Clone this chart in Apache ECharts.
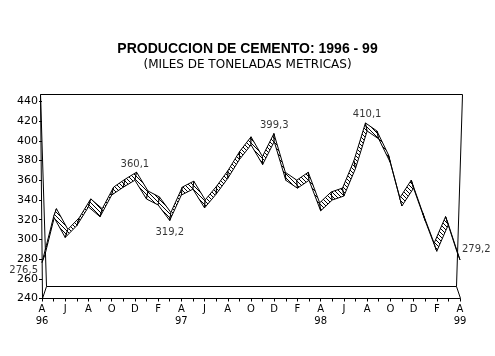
<!DOCTYPE html>
<html><head><meta charset="utf-8">
<script src="https://cdn.jsdelivr.net/npm/echarts@6/dist/echarts.min.js"></script>
<style>html,body{margin:0;padding:0;background:#fff}#c{width:495px;height:356px}</style>
</head><body><div id="c"></div>
<script>
// ---- data ----
const categories = ['A','M','J','J','A','S','O','N','D','E','F','M',
                    'A','M','J','J','A','S','O','N','D','E','F','M',
                    'A','M','J','J','A','S','O','N','D','E','F','M','A'];
const yearIdx = [0, 12, 24, 36];
const yearLabels = ['96', '97', '98', '99'];
const production = [276.5, 323, 302, 314, 333, 323, 345, 353, 360.1, 341, 335, 319.2,
                    345, 351, 332, 346, 362, 381, 396, 376, 399.3, 360, 352, 360,
                    329, 340, 344, 372, 410.1, 402, 378, 334, 352, 319, 288, 315, 279.2];
const labelIdx = [0, 8, 11, 20, 28, 36];
const yTicks = [240, 260, 280, 300, 320, 340, 360, 380, 400, 420, 440];

// ---- hatch pattern ----
const pc = document.createElement('canvas'); pc.width = 4; pc.height = 4;
const g = pc.getContext('2d');
g.fillStyle = '#fff'; g.fillRect(0,0,4,4);
g.fillStyle = '#000'; for (let k = 0; k < 4; k++) g.fillRect(k, k, 1, 1);
const hatch = {image: pc, repeat: 'repeat'};

const segData = [];
for (let i = 0; i < production.length - 1; i++) segData.push([i, production[i], production[i+1]]);

const fmt = v => String(v).replace('.', ',');
const labelPos = {
  0: {position: 'left', distance: 4, offset: [0, 8]},
  8: {position: 'top', distance: 11},
  11: {position: 'bottom', distance: 7},
  20: {position: 'top', distance: 11},
  28: {position: 'top', distance: 12},
  36: {position: 'right', distance: 2, offset: [0, -10]}
};
const labelData = labelIdx.map(i => ({value: [i, production[i]], label: labelPos[i]}));

const FONT = 'Liberation Sans, Arial, sans-serif';
const WIDE = 'DejaVu Sans, sans-serif';
const chart = echarts.init(document.getElementById('c'));
const L = (x1,y1,x2,y2) => ({type:'line', shape:{x1,y1,x2,y2}, style:{stroke:'#000', lineWidth:1}, z: 1, silent:true});

chart.setOption({
  animation: false,
  backgroundColor: '#fff',
  title: {
    text: 'PRODUCCION DE CEMENTO: 1996 - 99',
    subtext: '(MILES DE TONELADAS METRICAS)',
    left: 'center', top: 37, itemGap: 3,
    textStyle: {fontFamily: FONT, fontSize: 14, fontWeight: 'bold', color: '#000'},
    subtextStyle: {fontFamily: WIDE, fontSize: 12, color: '#000'}
  },
  grid: {left: 42, right: 35, top: 101.5, bottom: 57.5},
  xAxis: {
    type: 'category', data: categories, boundaryGap: false,
    axisLine: {lineStyle: {color: '#000', width: 1}},
    axisTick: {interval: 0, length: 3, lineStyle: {color: '#000'}},
    axisLabel: {
      interval: 1, margin: 5, color: '#000', fontFamily: WIDE, fontSize: 10, lineHeight: 12,
      formatter: (val, idx) => {
        const k = yearIdx.indexOf(idx);
        return k >= 0 ? val + '\n' + yearLabels[k] : val;
      }
    },
    splitLine: {show: false}
  },
  yAxis: {
    type: 'value', min: yTicks[0], max: yTicks[yTicks.length-1], interval: 20,
    axisLine: {show: false},
    axisTick: {show: true, length: 3, lineStyle: {color: '#000'}},
    axisLabel: {color: '#000', fontFamily: WIDE, fontSize: 11, margin: 4},
    splitLine: {show: false}
  },
  graphic: [
    L(40.5, 94.5, 462.5, 94.5),
    L(462.5, 94.5, 456.5, 286.5),
    L(46.5, 286.5, 456.5, 286.5),
    L(40.5, 94.5, 46.5, 286.5),
    L(40.5, 94.5, 42.5, 298.5),
    L(46.5, 286.5, 42.5, 298.5),
    L(456.5, 286.5, 460.5, 298.5)
  ],
  series: [
    {
      type: 'custom',
      data: segData,
      encode: {x: 0, y: [1, 2]},
      clip: false,
      renderItem: (params, api) => {
        const cs = params.coordSys;
        const i = api.value(0);
        const f0 = api.coord([i, api.value(1)]);
        const f1 = api.coord([i + 1, api.value(2)]);
        const off = p => {
          const t = (p[0] - cs.x) / cs.width;
          return [p[0] + 3 - 6 * t, p[1] - 8];
        };
        const b0 = off(f0), b1 = off(f1);
        return {
          type: 'polygon',
          shape: {points: [f0, f1, b1, b0]},
          style: {fill: hatch, stroke: '#000', lineWidth: 1}
        };
      },
      z: 3
    },
    {
      type: 'scatter',
      data: labelData,
      symbolSize: 0,
      z: 4,
      label: {
        show: true, color: '#000', fontFamily: WIDE, fontSize: 10,
        formatter: p => fmt(p.value[1])
      }
    }
  ]
});
</script></body></html>
